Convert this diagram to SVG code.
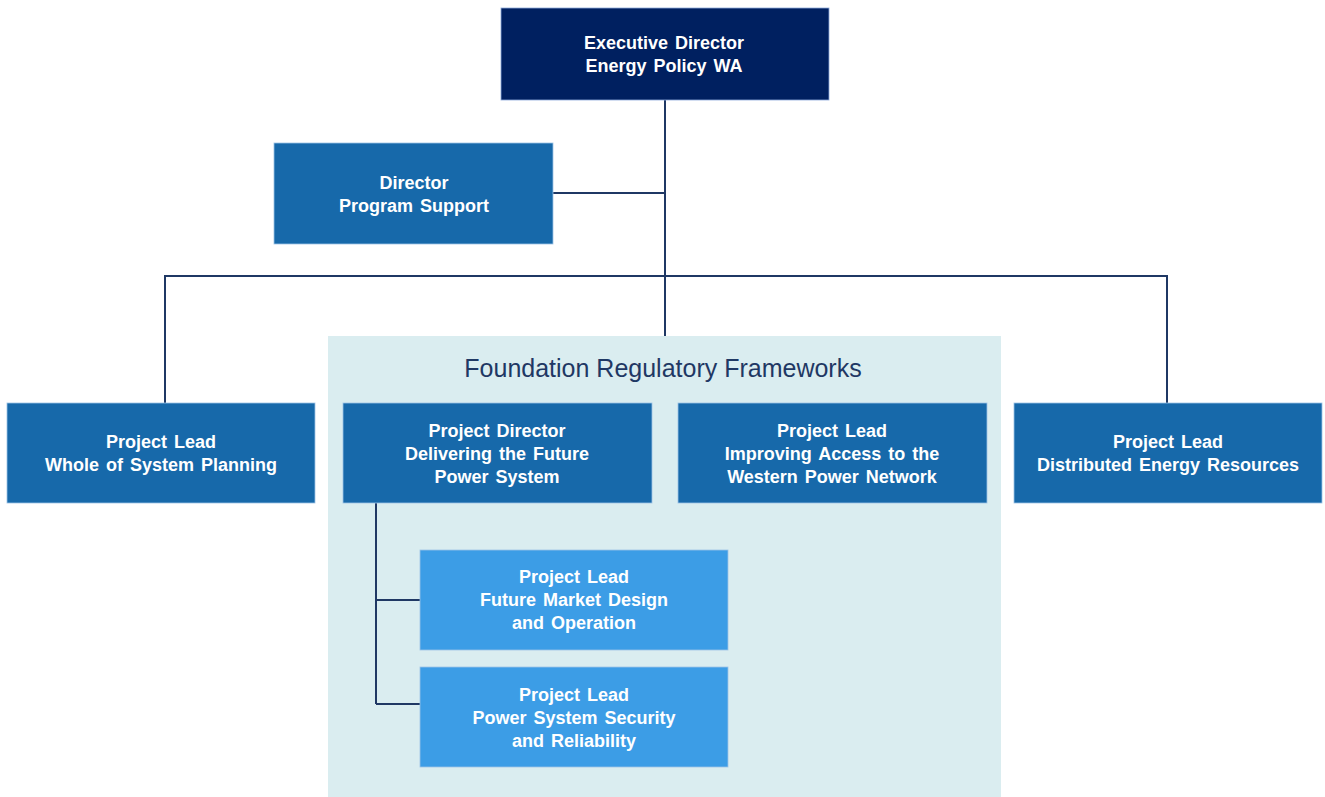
<svg xmlns="http://www.w3.org/2000/svg" width="1325" height="797" viewBox="0 0 1325 797">
<style>
.t{font-family:"Liberation Sans",Arial,sans-serif;font-weight:bold;font-size:18px;word-spacing:2px;fill:#ffffff;text-anchor:middle}
.navy{fill:#002060;stroke:#8eaadb;stroke-width:0.8}
.mid{fill:#1769aa;stroke:#9dc3e6;stroke-width:0.8}
.light{fill:#3c9de6;stroke:#9dc3e6;stroke-width:0.8}
.c{fill:none;stroke:#1f3864;stroke-width:2}
</style>
<rect id="frameworks-bg" x="328" y="336" width="673" height="461" fill="#daedf0"/>
<text x="663" y="377" font-family="'Liberation Sans',Arial,sans-serif" font-size="25" fill="#1f3864" text-anchor="middle">Foundation Regulatory Frameworks</text>
<g id="connectors">
<path class="c" d="M665 100V336M553 193H665M165 403V276H1167V403M376 503V704M376 600H420M376 704H420"/>
</g>
<g id="exec"><rect class="navy" x="501" y="8" width="328" height="92"/><text class="t" x="664" y="49">Executive Director</text><text class="t" x="664" y="72">Energy Policy WA</text></g>
<g id="program-support"><rect class="mid" x="274" y="143" width="279" height="101"/><text class="t" x="414" y="189">Director</text><text class="t" x="414" y="212">Program Support</text></g>
<g id="wosp"><rect class="mid" x="7" y="403" width="308" height="100"/><text class="t" x="161" y="448">Project Lead</text><text class="t" x="161" y="471">Whole of System Planning</text></g>
<g id="dfps"><rect class="mid" x="343" y="403" width="309" height="100"/><text class="t" x="497" y="437">Project Director</text><text class="t" x="497" y="460">Delivering the Future</text><text class="t" x="497" y="483">Power System</text></g>
<g id="access"><rect class="mid" x="678" y="403" width="309" height="100"/><text class="t" x="832" y="437">Project Lead</text><text class="t" x="832" y="460">Improving Access to the</text><text class="t" x="832" y="483">Western Power Network</text></g>
<g id="der"><rect class="mid" x="1014" y="403" width="308" height="100"/><text class="t" x="1168" y="448">Project Lead</text><text class="t" x="1168" y="471">Distributed Energy Resources</text></g>
<g id="market"><rect class="light" x="420" y="550" width="308" height="100"/><text class="t" x="574" y="583">Project Lead</text><text class="t" x="574" y="606">Future Market Design</text><text class="t" x="574" y="629">and Operation</text></g>
<g id="security"><rect class="light" x="420" y="667" width="308" height="100"/><text class="t" x="574" y="701">Project Lead</text><text class="t" x="574" y="724">Power System Security</text><text class="t" x="574" y="747">and Reliability</text></g>
</svg>
